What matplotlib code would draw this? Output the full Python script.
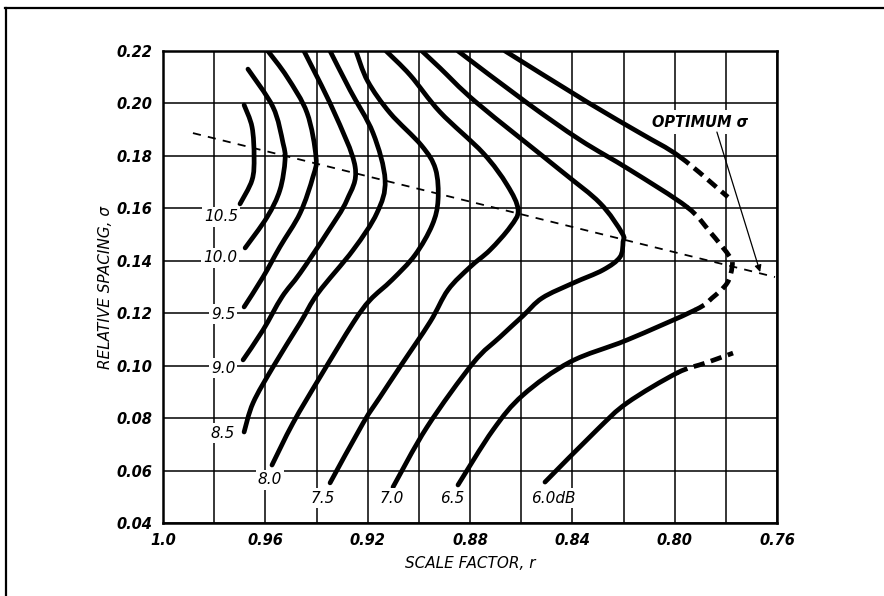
import numpy as np
import matplotlib.pyplot as plt
from matplotlib.lines import Line2D
from matplotlib.path import Path
from matplotlib.patches import PathPatch

# contour curves: scale factor r (x), relative spacing sigma (y)
r_105 = [0.9683, 0.9652, 0.9644, 0.9652, 0.9699]
s_105 = [0.1994, 0.1910, 0.1796, 0.1708, 0.1617]

r_100 = [0.9668, 0.9570, 0.9531, 0.9523, 0.9543, 0.9593, 0.9679]
s_100 = [0.2131, 0.1986, 0.1849, 0.1784, 0.1670, 0.1567, 0.1449]

r_95 = [0.9590, 0.9515, 0.9437, 0.9402, 0.9414, 0.9464, 0.9543, 0.9609, 0.9683]
s_95 = [0.2200, 0.2101, 0.1964, 0.1796, 0.1720, 0.1582, 0.1453, 0.1338, 0.1224]

r_90 = [0.9449, 0.9335, 0.9249, 0.9281, 0.9359, 0.9464, 0.9535, 0.9609, 0.9687]
s_90 = [0.2200, 0.1975, 0.1758, 0.1632, 0.1506, 0.1353, 0.1262, 0.1136, 0.1022]

r_85 = [0.9347, 0.9269, 0.9179, 0.9132, 0.9164, 0.9257, 0.9394, 0.9464, 0.9570, 0.9648, 0.9683]
s_85 = [0.2200, 0.2051, 0.1887, 0.1708, 0.1582, 0.1441, 0.1277, 0.1163, 0.0995, 0.0858, 0.0747]

r_80 = [0.9246, 0.9200, 0.9113, 0.8990, 0.8935, 0.8925, 0.8948, 0.9015, 0.9105, 0.9191,
        0.9257, 0.9386, 0.9492, 0.9574]
s_80 = [0.2200, 0.2085, 0.1964, 0.1840, 0.1750, 0.1632, 0.1536, 0.1422, 0.1327, 0.1250,
        0.1163, 0.0957, 0.0781, 0.0621]

r_75 = [0.9128, 0.9034, 0.8917, 0.8749, 0.8655, 0.8612, 0.8643, 0.8722, 0.8800, 0.8886,
        0.8956, 0.9074, 0.9152, 0.9218, 0.9347]
s_75 = [0.2200, 0.2108, 0.1967, 0.1811, 0.1689, 0.1594, 0.1529, 0.1441, 0.1376, 0.1289,
        0.1167, 0.0995, 0.0880, 0.0781, 0.0553]

r_70 = [0.8988, 0.8917, 0.8773, 0.8448, 0.8292, 0.8206, 0.8202, 0.8214, 0.8280,
        0.8397, 0.8518, 0.8593, 0.8683, 0.8788, 0.8968, 0.9101]
s_70 = [0.2200, 0.2135, 0.2002, 0.1746, 0.1620, 0.1506, 0.1472, 0.1414, 0.1365,
        0.1315, 0.1258, 0.1190, 0.1109, 0.1010, 0.0766, 0.0537]

r_65_top = [0.8847, 0.8577, 0.8370, 0.8174, 0.7952]
s_65_top = [0.2200, 0.2002, 0.1861, 0.1746, 0.1605]
r_65_dash = [0.7952, 0.7862, 0.7784, 0.7776, 0.7795, 0.7854, 0.7921]
s_65_dash = [0.1605, 0.1510, 0.1414, 0.1376, 0.1315, 0.1258, 0.1212]
r_65_low = [0.7921, 0.8186, 0.8409, 0.8593, 0.8710, 0.8847]
s_65_low = [0.1212, 0.1098, 0.1014, 0.0888, 0.0755, 0.0545]

r_60_top = [0.8663, 0.8343, 0.8135, 0.7979]
s_60_top = [0.2200, 0.2006, 0.1887, 0.1796]
r_60_topdash = [0.7979, 0.7792]
s_60_topdash = [0.1796, 0.1643]
r_60_low = [0.8507, 0.8304, 0.8186, 0.7991]
s_60_low = [0.0556, 0.0755, 0.0858, 0.0972]
r_60_lowdash = [0.7991, 0.7880, 0.7772]
s_60_lowdash = [0.0972, 0.1010, 0.1048]

# optimum sigma line
r_opt = [0.9883, 0.7608]
s_opt = [0.1887, 0.1338]

# contour labels
lab_text = ["10.5", "10.0", "9.5", "9.0", "8.5", "8.0", "7.5", "7.0", "6.5", "6.0dB"]
lab_r = [0.9773, 0.9777, 0.9765, 0.9765, 0.9765, 0.9582, 0.9375, 0.9105, 0.8870, 0.8475]
lab_s = [0.1567, 0.1411, 0.1197, 0.0991, 0.0743, 0.0564, 0.0495, 0.0495, 0.0495, 0.0495]

xticks = [1.0, 0.96, 0.92, 0.88, 0.84, 0.80, 0.76]
xtick_labels = ["1.0", "0.96", "0.92", "0.88", "0.84", "0.80", "0.76"]
yticks = [0.04, 0.06, 0.08, 0.10, 0.12, 0.14, 0.16, 0.18, 0.20, 0.22]


def smooth(ax, xs, ys, parts):
    # smooth curve through the read points; parts = list of (first, last, dashed)
    p = np.column_stack([xs, ys])
    n = len(p)
    for a, b, dash in parts:
        verts = [p[a]]
        codes = [Path.MOVETO]
        for i in range(a, b):
            p0 = p[max(i - 1, 0)]
            p3 = p[min(i + 2, n - 1)]
            verts += [p[i] + (p[i + 1] - p0) / 6, p[i + 1] - (p3 - p[i]) / 6, p[i + 1]]
            codes += [Path.CURVE4] * 3
        if dash:
            patch = PathPatch(Path(verts, codes), fill=False, lw=3.4, ec="black",
                              ls=(0, (2.4, 1.4)), capstyle="butt", zorder=4)
        else:
            patch = PathPatch(Path(verts, codes), fill=False, lw=3.4, ec="black",
                              capstyle="round", joinstyle="round", zorder=4)
        ax.add_patch(patch)


fig = plt.figure(figsize=(8.84, 5.96), dpi=100)
ax = fig.add_axes([0.1844, 0.1225, 0.6946, 0.7919])

ax.set_xlim(1.0, 0.76)
ax.set_ylim(0.04, 0.22)
ax.set_xticks(xticks)
ax.set_xticklabels(xtick_labels)
ax.set_xticks(np.arange(0.78, 1.0, 0.04), minor=True)
ax.set_yticks(yticks)
ax.set_yticklabels(["%.2f" % v for v in yticks])
ax.grid(True, which="both", color="black", lw=1.1)
ax.set_axisbelow(True)
ax.tick_params(which="both", length=0, labelsize=10.5)
ax.tick_params(axis="x", pad=7)
ax.tick_params(axis="y", pad=8)
for t in ax.get_xticklabels() + ax.get_yticklabels():
    t.set_fontstyle("italic")
    t.set_fontweight("bold")
for sp in ax.spines.values():
    sp.set_linewidth(1.8)

for rr, ss in [(r_105, s_105), (r_100, s_100), (r_95, s_95), (r_90, s_90), (r_85, s_85),
               (r_80, s_80), (r_75, s_75), (r_70, s_70)]:
    smooth(ax, rr, ss, [(0, len(rr) - 1, False)])

# 6.5 dB: solid - dashed nose - solid
r65 = r_65_top + r_65_dash[1:] + r_65_low[1:]
s65 = s_65_top + s_65_dash[1:] + s_65_low[1:]
k1 = len(r_65_top) - 1
k2 = k1 + len(r_65_dash) - 1
smooth(ax, r65, s65, [(0, k1, False), (k1, k2, True), (k2, len(r65) - 1, False)])

# 6.0 dB: two branches, each ending dashed
r60t = r_60_top + r_60_topdash[1:]
s60t = s_60_top + s_60_topdash[1:]
smooth(ax, r60t, s60t, [(0, len(r_60_top) - 1, False), (len(r_60_top) - 1, len(r60t) - 1, True)])
r60l = r_60_low + r_60_lowdash[1:]
s60l = s_60_low + s_60_lowdash[1:]
smooth(ax, r60l, s60l, [(0, len(r_60_low) - 1, False), (len(r_60_low) - 1, len(r60l) - 1, True)])

ax.plot(r_opt, s_opt, color="black", lw=1.3, ls=(0, (4.5, 4)), zorder=3)

for txt, x, y in zip(lab_text, lab_r, lab_s):
    ax.text(x, y, txt, fontsize=11, style="italic", ha="center", va="center", zorder=5,
            bbox=dict(facecolor="white", edgecolor="none", pad=1.5))

ax.text(0.7901, 0.1929, "OPTIMUM σ", fontsize=10.5, style="italic", fontweight="bold",
        ha="center", va="center", zorder=5,
        bbox=dict(facecolor="white", edgecolor="none", pad=3))
ax.annotate("", xy=(0.7666, 0.1357), xytext=(0.7835, 0.1891), zorder=5,
            arrowprops=dict(arrowstyle="-|>", color="black", lw=0.9,
                            mutation_scale=10, shrinkA=0, shrinkB=0))

ax.set_xlabel("SCALE FACTOR, r", fontsize=11, style="italic", labelpad=6)
ax.set_ylabel("RELATIVE SPACING, σ", fontsize=11, style="italic", labelpad=2)

# page frame
fig.add_artist(Line2D([0.006, 1.0], [0.987, 0.987], color="black", lw=1.6))
fig.add_artist(Line2D([0.007, 0.007], [0.0, 0.987], color="black", lw=1.6))

fig.savefig("out.png", dpi=100)
